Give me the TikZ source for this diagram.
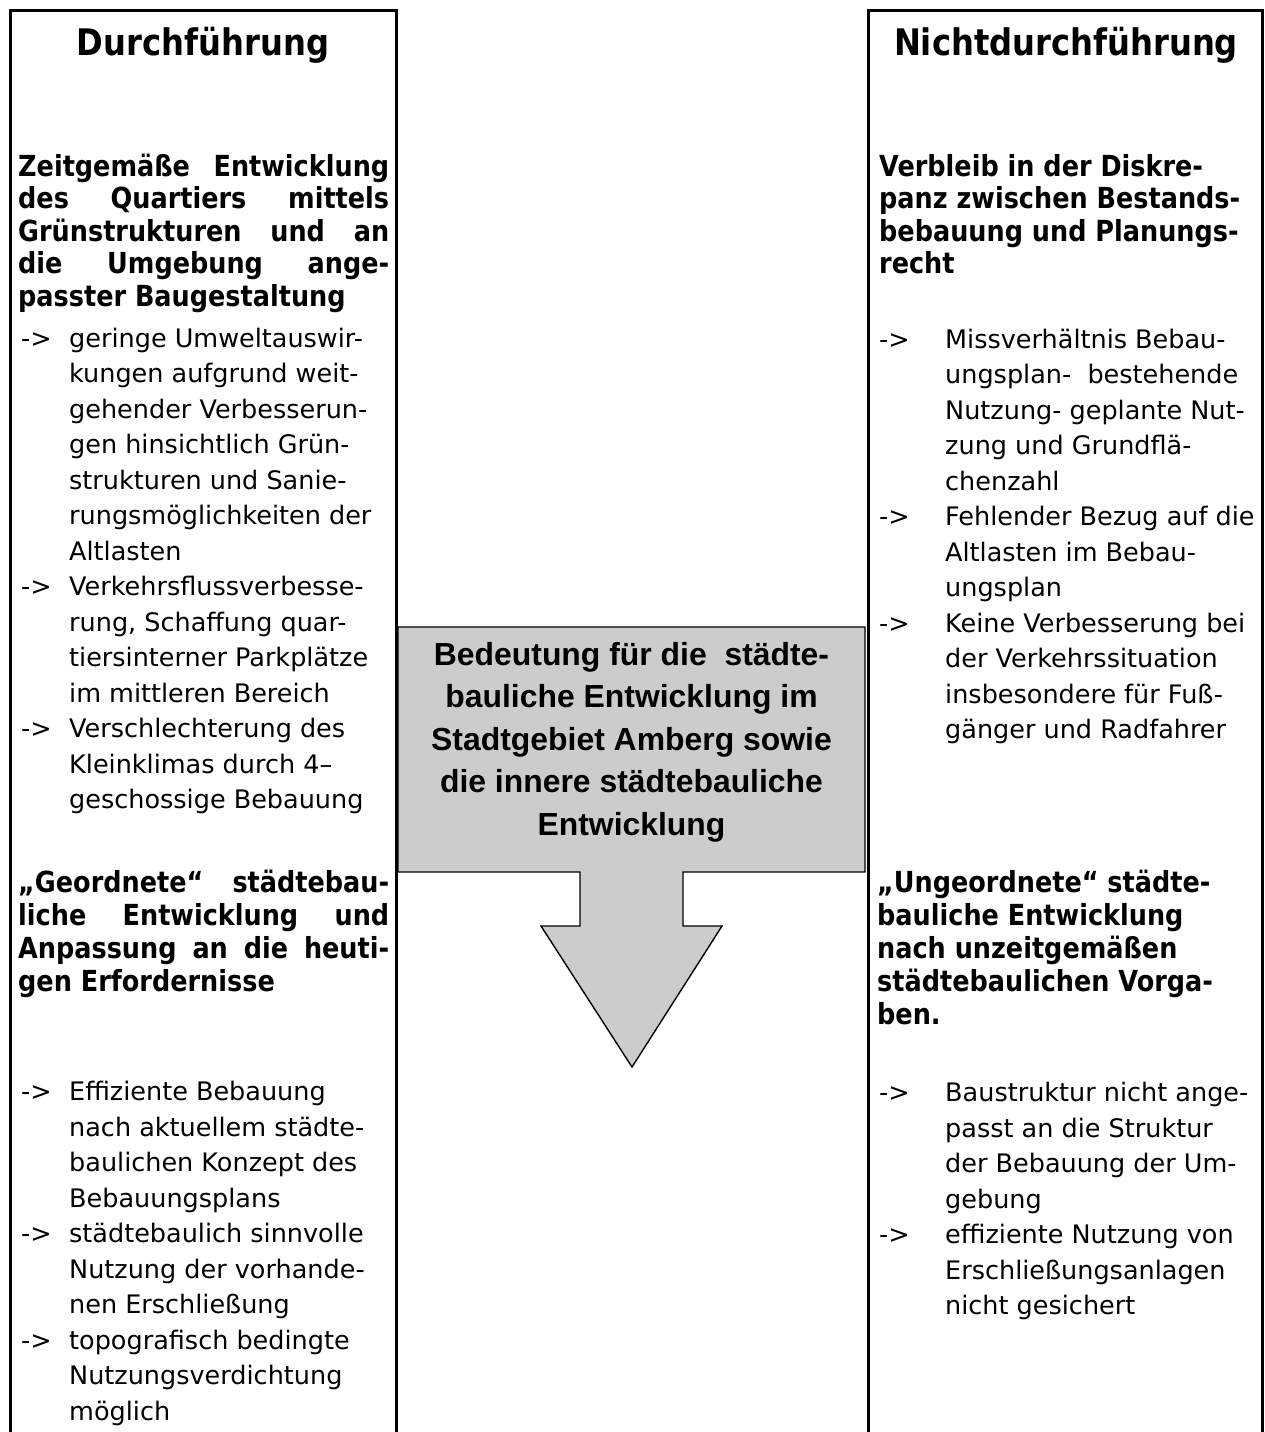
\documentclass[tikz,border=0pt]{standalone}
\usepackage{fontspec}
\setmainfont{DejaVu Sans}
\newfontfamily\regf{DejaVu Sans}
\newfontfamily\boldf{DejaVu Sans}[FakeStretch=0.88]
\newfontfamily\ctrf{Liberation Sans}
\definecolor{boxgrey}{HTML}{CCCCCC}
\tikzset{
  reg/.style={anchor=base west, inner sep=0pt, font=\regf\fontsize{25.5}{30}\selectfont},
  hd/.style={anchor=base west, inner sep=0pt, font=\boldf\bfseries\fontsize{29}{32}\selectfont},
  ttl/.style={anchor=base, inner sep=0pt, font=\boldf\bfseries\fontsize{36.6}{40}\selectfont},
  ctr/.style={anchor=base, inner sep=0pt, font=\ctrf\bfseries\fontsize{31.9}{36}\selectfont},
  frame/.style={line width=3pt, line cap=butt, line join=miter},
  callout/.style={draw=black, fill=boxgrey, line width=1.4pt, line join=miter},
}
\newcommand\mylines[5]{%
  \foreach \t [count=\i from 0] in {#5} {
    \node[reg] (#1\i) at (#2, {#3+\i*#4}) {\t};
  }}
\newcommand\jl[1]{\makebox[371pt][s]{#1}}
\begin{document}
\begin{tikzpicture}[x=1pt, y=-1pt]
\useasboundingbox (0,0) rectangle (1265,1432);
\fill[white] (0,0) rectangle (1265,1432);
% column frames
\draw[frame] (10,1440) -- (10,10) -- (396,10) -- (396,1440);
\draw[frame] (868,1440) -- (868,10) -- (1262,10) -- (1262,1440);
% callout with down arrow
\draw[callout] (398,627) -- (865,627) -- (865,872) -- (683,872) -- (683,926)
  -- (722,926) -- (632,1067) -- (541,926) -- (580,926) -- (580,872)
  -- (398,872) -- cycle;
\node[ctr] (c1) at (631.5,665) {Bedeutung für die\ \ städte-};
\node[ctr] (c2) at (631.5,707.5) {bauliche Entwicklung im};
\node[ctr] (c3) at (631.5,750) {Stadtgebiet Amberg sowie};
\node[ctr] (c4) at (631.5,792.5) {die innere städtebauliche};
\node[ctr] (c5) at (631.5,835) {Entwicklung};
% titles
\node[ttl] (tl) at (203,55) {Durchführung};
\node[ttl] (tr) at (1066,55) {Nichtdurchführung};
% left bold heading 1
\node[hd] (lh1) at (18,176) {\jl{Zeitgemäße Entwicklung}};
\node[hd] (lh2) at (18,208.5) {\jl{des Quartiers mittels}};
\node[hd] (lh3) at (18,241) {\jl{Grünstrukturen und an}};
\node[hd] (lh4) at (18,273.5) {\jl{die Umgebung ange-}};
\node[hd] (lh5) at (18,306) {passter Baugestaltung};
% left body 1
\mylines{la}{69}{347}{35.5}{geringe Umweltauswir-,kungen aufgrund weit-,gehender Verbesserun-,gen hinsichtlich Grün-,strukturen und Sanie-,rungsmöglichkeiten der,Altlasten,Verkehrsflussverbesse-,{rung, Schaffung quar-},tiersinterner Parkplätze,im mittleren Bereich,Verschlechterung des,Kleinklimas durch 4–,geschossige Bebauung}
\node[reg] (lb1) at (21,347) {->};
\node[reg] (lb2) at (21,595.5) {->};
\node[reg] (lb3) at (21,737.5) {->};
% left bold heading 2
\node[hd] (lg1) at (18,892) {\jl{„Geordnete“ städtebau-}};
\node[hd] (lg2) at (18,925) {\jl{liche Entwicklung und}};
\node[hd] (lg3) at (18,958) {\jl{Anpassung an die heuti-}};
\node[hd] (lg4) at (18,991) {gen Erfordernisse};
% left body 2
\mylines{lc}{69}{1100.5}{35.5}{Effiziente Bebauung,nach aktuellem städte-,baulichen Konzept des,Bebauungsplans,städtebaulich sinnvolle,Nutzung der vorhande-,nen Erschließung,topografisch bedingte,Nutzungsverdichtung,möglich}
\node[reg] (lb4) at (21,1100.5) {->};
\node[reg] (lb5) at (21,1242.5) {->};
\node[reg] (lb6) at (21,1349) {->};
% right bold heading 1
\node[hd] (rh1) at (879,176) {Verbleib in der Diskre-};
\node[hd] (rh2) at (879,208.5) {panz zwischen Bestands-};
\node[hd] (rh3) at (879,241) {bebauung und Planungs-};
\node[hd] (rh4) at (879,273.5) {recht};
% right body 1
\mylines{ra}{945}{348}{35.5}{Missverhältnis Bebau-,ungsplan-\ \ bestehende,Nutzung- geplante Nut-,zung und Grundflä-,chenzahl,Fehlender Bezug auf die,Altlasten im Bebau-,ungsplan,Keine Verbesserung bei,der Verkehrssituation,insbesondere für Fuß-,gänger und Radfahrer}
\node[reg] (rb1) at (879,348) {->};
\node[reg] (rb2) at (879,525.5) {->};
\node[reg] (rb3) at (879,632) {->};
% right bold heading 2
\node[hd] (rg1) at (877,892) {„Ungeordnete“ städte-};
\node[hd] (rg2) at (877,925) {bauliche Entwicklung};
\node[hd] (rg3) at (877,958) {nach unzeitgemäßen};
\node[hd] (rg4) at (877,991) {städtebaulichen Vorga-};
\node[hd] (rg5) at (877,1024) {ben.};
% right body 2
\mylines{rc}{945}{1101.5}{35.5}{Baustruktur nicht ange-,passt an die Struktur,der Bebauung der Um-,gebung,effiziente Nutzung von,Erschließungsanlagen,nicht gesichert}
\node[reg] (rb4) at (879,1101.5) {->};
\node[reg] (rb5) at (879,1243.5) {->};
\end{tikzpicture}
\end{document}
